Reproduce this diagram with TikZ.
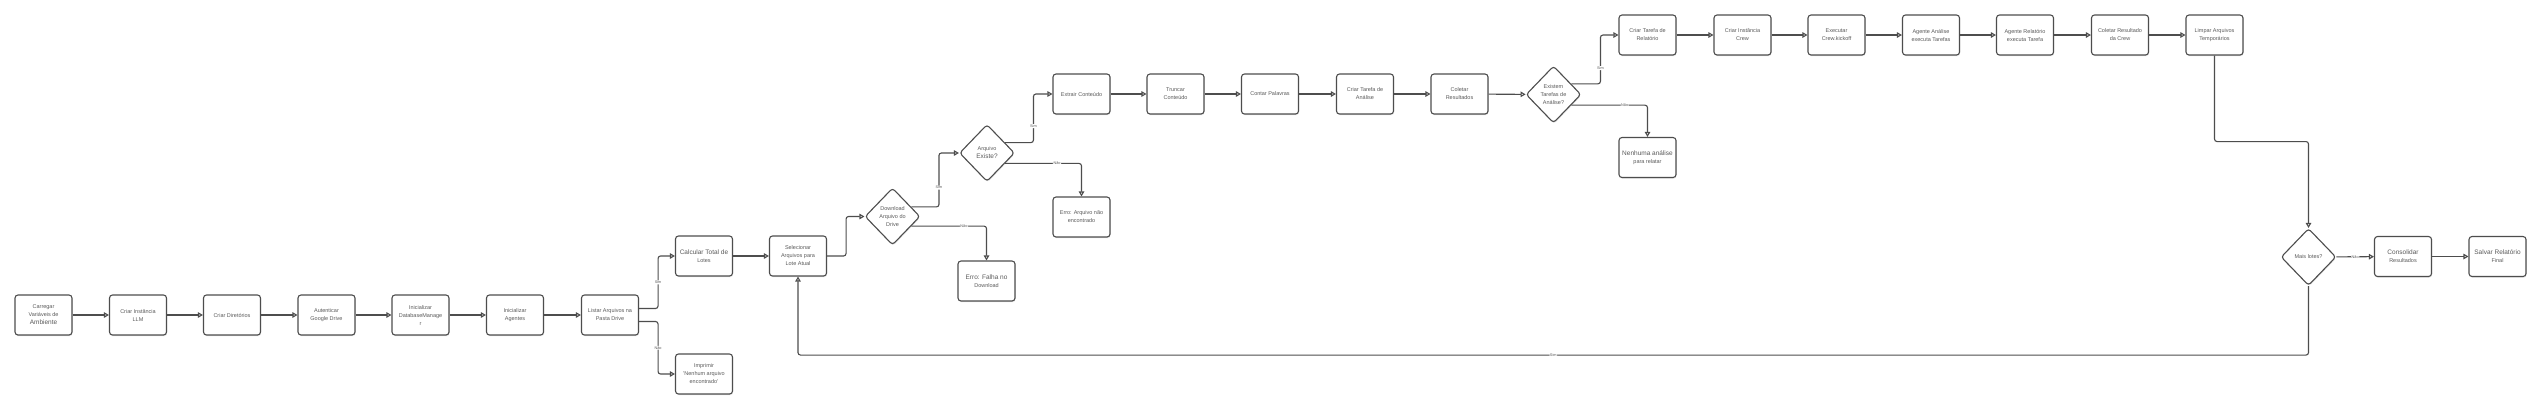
\documentclass[tikz,border=0pt]{standalone}
\usepackage{fontspec}
\setmainfont{Liberation Sans}
\usetikzlibrary{arrows.meta,shapes.geometric,shadows}
\definecolor{ln}{HTML}{4D4D4D}
\definecolor{tx}{HTML}{5A5A5A}
\newcommand{\bigt}[1]{{\fontsize{6.5}{8}\selectfont #1}}
\begin{document}
\begin{tikzpicture}[x=1pt,y=-1pt,
  shd/.style={drop shadow={shadow xshift=0.5pt, shadow yshift=-1.2pt, opacity=0.22}},
  box/.style={draw=ln, line width=1.1pt, rounded corners=3pt, fill=white, minimum width=57pt, minimum height=40pt, inner sep=1pt, align=center, text=tx, font=\fontsize{5.5}{8}\selectfont, shd},
  dia/.style={diamond, draw=ln, line width=1.1pt, rounded corners=3pt, fill=white, minimum width=55pt, minimum height=57pt, inner sep=0pt, align=center, text=tx, font=\fontsize{5.5}{8}\selectfont, shd},
  arr/.style={draw=ln, line width=1.1pt, rounded corners=2.5pt, -{Triangle[open, length=5pt, width=5.5pt]}},
  lbl/.style={fill=white, inner sep=0.6pt, text=tx, font=\fontsize{3.8}{4}\selectfont},
]
\fill[white] (0,0) rectangle (2540,408);
\useasboundingbox (0,0) rectangle (2540,408);

% main row
\node[box] (c1) at (43.5,315) {Carregar\\Variáveis de\\\bigt{Ambiente}};
\node[box] (c2) at (138,315) {Criar Instância\\LLM};
\node[box] (c3) at (232,315) {Criar Diretórios};
\node[box] (c4) at (326.5,315) {Autenticar\\Google Drive};
\node[box] (c5) at (420.5,315) {Inicializar\\DatabaseManage\\r};
\node[box] (c6) at (515,315) {Inicializar\\Agentes};
\node[box] (c7) at (610,315) {Listar Arquivos na\\Pasta Drive};
\node[box] (calc) at (704,256) {\bigt{Calcular Total de}\\Lotes};
\node[box] (impr) at (704,374) {Imprimir\\'Nenhum arquivo\\encontrado'};
\node[box] (sel) at (798,256) {Selecionar\\Arquivos para\\Lote Atual};
\node[dia] (dl) at (892.5,216.5) {Download\\Arquivo do\\Drive};
\node[box] (fail) at (986.5,281) {\bigt{Erro: Falha no}\\Download};
\node[dia] (ae) at (987,153) {Arquivo\\\bigt{Existe?}};
\node[box] (ext) at (1081.5,94) {Extrair Conteúdo};
\node[box] (nf) at (1081.5,217) {Erro: Arquivo não\\encontrado};
\node[box] (tr) at (1175.5,94) {Truncar\\Conteúdo};
\node[box] (cp) at (1270,94) {Contar Palavras};
\node[box] (cta) at (1365,94) {Criar Tarefa de\\Análise};
\node[box] (cr) at (1459.5,94) {Coletar\\Resultados};
\node[dia] (et) at (1553.5,94.5) {Existem\\Tarefas de\\Análise?};
\node[box] (ctr) at (1647.5,35) {Criar Tarefa de\\Relatório};
\node[box] (nen) at (1647.5,157.5) {\bigt{Nenhuma análise}\\para relatar};
\node[box] (cic) at (1742.5,35) {Criar Instância\\Crew};
\node[box] (ek) at (1836.5,35) {Executar\\Crew.kickoff};
\node[box] (aa) at (1931,35) {Agente Análise\\executa Tarefas};
\node[box] (ar) at (2025,35) {Agente Relatório\\executa Tarefa};
\node[box] (crc) at (2120,35) {Coletar Resultado\\da Crew};
\node[box] (lim) at (2214.5,35) {Limpar Arquivos\\Temporários};
\node[dia] (ml) at (2308.5,257) {Mais lotes?};
\node[box] (cons) at (2403,256.5) {\bigt{Consolidar}\\Resultados};
\node[box] (salv) at (2497.5,256.5) {\bigt{Salvar Relatório}\\Final};

% connectors
\draw[arr] (c1) -- (c2);
\draw[arr] (c2) -- (c3);
\draw[arr] (c3) -- (c4);
\draw[arr] (c4) -- (c5);
\draw[arr] (c5) -- (c6);
\draw[arr] (c6) -- (c7);
\draw[arr] ([yshift=6.5pt]c7.east) -- ++(19,0) |- node[lbl,pos=0.25]{Sim} (calc.west);
\draw[arr] ([yshift=-6.5pt]c7.east) -- ++(19,0) |- node[lbl,pos=0.25]{Não} (impr.west);
\draw[arr] (calc) -- (sel);
\draw[arr] (sel.east) -- ++(19,0) |- (dl.west);
\draw[arr] (dl.27) -| ([xshift=-20pt]ae.west) node[lbl,pos=0.68]{Sim} -- (ae.west);
\draw[arr] (dl.-27) -| node[lbl,pos=0.35]{Não} (fail.north);
\draw[arr] (ae.30) -| ([xshift=-19pt]ext.west) node[lbl,pos=0.67]{Sim} -- (ext.west);
\draw[arr] (ae.-30) -| node[lbl,pos=0.34]{Não} (nf.north);
\draw[arr] (ext) -- (tr);
\draw[arr] (tr) -- (cp);
\draw[arr] (cp) -- (cta);
\draw[arr] (cta) -- (cr);
\draw[arr] (cr) -- (et);
\draw[arr] (et.31) -| ([xshift=-18pt]ctr.west) node[lbl,pos=0.66]{Sim} -- (ctr.west);
\draw[arr] (et.-31) -| node[lbl,pos=0.35]{Não} (nen.north);
\draw[arr] (ctr) -- (cic);
\draw[arr] (cic) -- (ek);
\draw[arr] (ek) -- (aa);
\draw[arr] (aa) -- (ar);
\draw[arr] (ar) -- (crc);
\draw[arr] (crc) -- (lim);
\draw[arr] (lim.south) -- ++(0,86) -| (ml.north);
\draw[arr] (ml) -- node[lbl]{Não} (cons);
\draw[arr] (cons) -- (salv);
\draw[arr] (ml.south) -- ++(0,69) -| node[lbl,pos=0.25]{Sim} (sel.south);
\end{tikzpicture}
\end{document}
